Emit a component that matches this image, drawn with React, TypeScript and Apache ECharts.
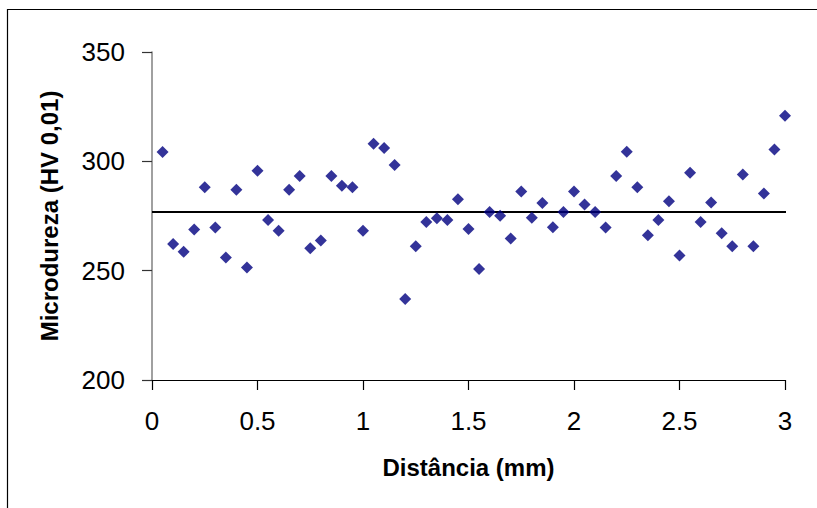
import React, { useEffect, useRef } from "react";
import * as echarts from "echarts";

const distances: number[] = [
  0.05, 0.1, 0.15, 0.2, 0.25, 0.3, 0.35, 0.4, 0.45, 0.5,
  0.55, 0.6, 0.65, 0.7, 0.75, 0.8, 0.85, 0.9, 0.95, 1.0,
  1.05, 1.1, 1.15, 1.2, 1.25, 1.3, 1.35, 1.4, 1.45, 1.5,
  1.55, 1.6, 1.65, 1.7, 1.75, 1.8, 1.85, 1.9, 1.95, 2.0,
  2.05, 2.1, 2.15, 2.2, 2.25, 2.3, 2.35, 2.4, 2.45, 2.5,
  2.55, 2.6, 2.65, 2.7, 2.75, 2.8, 2.85, 2.9, 2.95, 3.0,
];

const hardness: number[] = [
  304.3, 262.2, 258.6, 268.8, 288.1, 269.7, 256.0, 287.0, 251.5, 295.7,
  273.2, 268.2, 287.0, 293.3, 260.2, 263.8, 293.3, 288.8, 288.1, 268.2,
  308.0, 306.1, 298.3, 237.0, 261.2, 272.2, 274.0, 273.2, 282.7, 269.0,
  250.8, 276.8, 275.1, 264.7, 286.2, 274.2, 281.0, 269.9, 276.8, 286.2,
  280.3, 276.8, 269.7, 293.3, 304.4, 288.1, 266.2, 273.2, 281.8, 256.9,
  294.8, 272.3, 281.2, 267.1, 261.2, 294.0, 261.2, 285.3, 305.4, 320.8,
];

const meanLineX: number[] = [0, 3.04];
const meanValue = 276.8;

const xTitle = "Distância (mm)";
const yTitle = "Microdureza (HV 0,01)";

const FONT = "'Liberation Sans', Arial, Helvetica, sans-serif";

export default function App() {
  const ref = useRef<HTMLDivElement>(null);

  useEffect(() => {
    if (!ref.current) return;
    const chart = echarts.init(ref.current, undefined, { renderer: "svg" });
    chart.setOption({
      animation: false,
      backgroundColor: "#ffffff",
      graphic: [
        {
          type: "rect",
          shape: { x: 7.5, y: 9.5, width: 900, height: 600 },
          style: { fill: "none", stroke: "#000000", lineWidth: 1.2 },
          silent: true,
        },
      ],
      grid: { left: 152, right: 32, top: 52, height: 328, containLabel: false },
      xAxis: {
        type: "value",
        min: 0,
        max: 3,
        interval: 0.5,
        name: xTitle,
        nameLocation: "middle",
        nameGap: 75,
        nameTextStyle: { fontFamily: FONT, fontSize: 24, fontWeight: "bold", color: "#000" },
        axisLine: { show: true, onZero: false, lineStyle: { color: "#000", width: 1.2 } },
        axisTick: { show: true, inside: false, length: 10, lineStyle: { color: "#000", width: 1.2 } },
        axisLabel: { fontFamily: FONT, fontSize: 26, color: "#000", margin: 28 },
        splitLine: { show: false },
      },
      yAxis: {
        type: "value",
        min: 200,
        max: 350,
        interval: 50,
        name: yTitle,
        nameLocation: "middle",
        nameGap: 91,
        nameTextStyle: { fontFamily: FONT, fontSize: 24, fontWeight: "bold", color: "#000" },
        axisLine: { show: true, onZero: false, lineStyle: { color: "#808080", width: 1.5 } },
        axisTick: { show: true, inside: false, length: 10, lineStyle: { color: "#333", width: 1.2 } },
        axisLabel: { fontFamily: FONT, fontSize: 26, color: "#000", margin: 27 },
        splitLine: { show: false },
      },
      series: [
        {
          type: "line",
          data: meanLineX.map((x) => [x, meanValue]),
          showSymbol: false,
          symbol: "none",
          clip: false,
          lineStyle: { color: "#000", width: 2 },
          silent: true,
          z: 1,
        },
        {
          type: "scatter",
          data: distances.map((d, i) => [d, hardness[i]]),
          symbol: "diamond",
          symbolSize: 12,
          itemStyle: { color: "#000080" },
          z: 3,
        },
      ],
    });
    return () => chart.dispose();
  }, []);

  return (
    <div
      ref={ref}
      style={{ position: "fixed", left: 0, top: 0, width: 817, height: 508 }}
    />
  );
}
